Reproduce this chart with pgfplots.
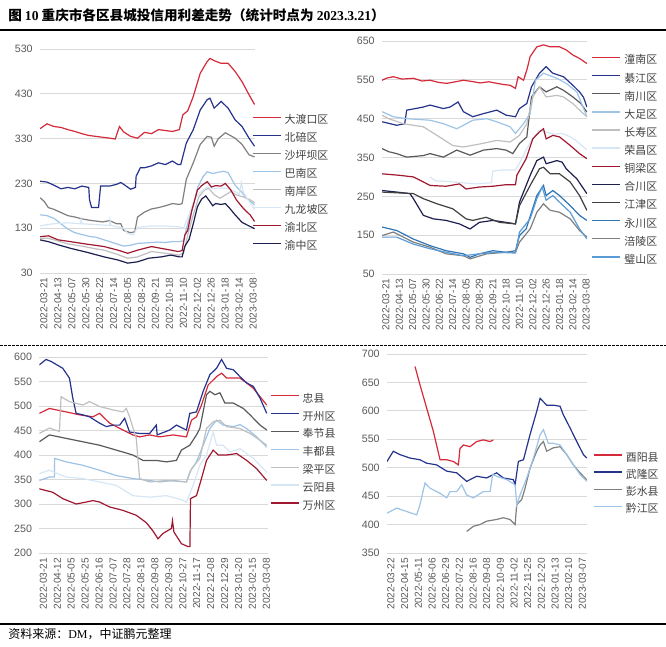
\documentclass[border=0pt]{standalone}
\usepackage{fontspec}
\usepackage{pgfplots}
\pgfplotsset{compat=1.18}
\setmainfont{Liberation Serif}
\setsansfont{Liberation Sans}
\newfontfamily\cjk{Noto Sans CJK SC}

\definecolor{cRed}{HTML}{D42A3A}
\definecolor{cNavy}{HTML}{26338C}
\definecolor{cGray}{HTML}{7F7F7F}
\definecolor{cDGray}{HTML}{595959}
\definecolor{cLBlue}{HTML}{9DC3E6}
\definecolor{cLGray}{HTML}{BFBFBF}
\definecolor{cPale}{HTML}{D6E6F5}
\definecolor{cMaroon}{HTML}{A01830}
\definecolor{cDNavy}{HTML}{1C1F4F}
\definecolor{cDark}{HTML}{404040}
\definecolor{cBlue}{HTML}{2E75B6}
\definecolor{cSky}{HTML}{5B9BD5}
\definecolor{cTick}{HTML}{595959}
\definecolor{cGrid}{HTML}{D9D9D9}

\pgfplotsset{
  panel/.style={
    scale only axis, anchor=south west,
    axis line style={draw=none},
    major tick length=0pt,
    ymajorgrids,
    grid style={draw=cGrid, line width=0.6pt},
    tick label style={font=\sffamily\fontsize{8}{9}\selectfont, text=cTick},
    /pgf/number format/assume math mode=true,
    yticklabel style={xshift=-2pt},
    xticklabel style={rotate=90, anchor=east, yshift=-3pt, font=\sffamily\fontsize{7.6}{8}\selectfont},
    every axis plot/.append style={line width=0.9pt, mark=none},
    legend cell align=left,
    legend style={draw=none, fill=none, inner sep=0pt, outer sep=0pt, anchor=north west,
      font=\cjk\fontsize{8.2}{9}\selectfont, text=cDark,
      nodes={inner sep=0pt, text height=6pt, text depth=1.5pt},
      /tikz/every odd column/.append style={column sep=2.5pt}},
    legend image code/.code={\draw[##1, line width=1pt] (0pt,2.6pt) -- (21pt,2.6pt);},
  },
}

\begin{document}
\begin{tikzpicture}
\useasboundingbox (0,0) rectangle (499.5pt,-484.5pt);

\node[anchor=west, inner sep=0pt] at (6pt,-11.5pt)
  {\cjk\bfseries\fontsize{10.2}{12}\selectfont 图 {\rmfamily 10} 重庆市各区县城投信用利差走势（统计时点为 {\rmfamily 2023.3.21}）};
\draw[line width=1.2pt] (0,-22.5pt) -- (499.5pt,-22.5pt);
\draw[line width=0.6pt, dash pattern=on 2pt off 1pt] (0,-258.75pt) -- (499.5pt,-258.75pt);
\draw[line width=0.9pt] (0,-468pt) -- (499.5pt,-468pt);
\node[anchor=west, inner sep=0pt] at (6pt,-475.5pt)
  {\cjk\fontsize{9}{10}\selectfont 资料来源：{\rmfamily DM}，中证鹏元整理};

% ---------- panel 1 ----------
\begin{axis}[panel, at={(30pt,-204.75pt)}, width=161.25pt, height=168pt,
  xmin=0, xmax=15.43, ymin=30, ymax=530, ytick={30,130,...,530},
  xtick={0,...,15},
  xticklabels={2022-03-21,2022-04-13,2022-05-07,2022-05-30,2022-06-22,2022-07-14,2022-08-05,2022-08-29,2022-09-21,2022-10-18,2022-11-10,2022-12-02,2022-12-26,2023-01-18,2023-02-14,2023-03-08},
  legend style={at={(0.986,0.701)}, row sep=6pt}]
\addplot[cRed] coordinates {(0,352) (0.5,363) (1,357) (1.5,355) (2,350) (2.5,346) (3,341) (3.5,337) (4,335) (4.5,333) (5,331) (5.4,329) (5.7,357) (6,345) (6.5,335) (7,331) (7.5,344) (8,341) (8.5,350) (9,348) (9.5,346) (10,350) (10.25,383) (10.6,392) (11,424) (11.5,476) (12,502) (12.2,509) (12.5,504) (13,498) (13.5,498) (14,480) (14.5,457) (15,428) (15.4,406)};
\addplot[cNavy] coordinates {(0,235) (0.5,233) (1,226) (1.5,218) (2,221) (2.5,218) (3,224) (3.5,221) (3.55,194) (3.7,176) (4.2,176) (4.35,224) (5,224) (5.5,228) (5.8,232) (6,228) (6.5,217) (6.85,221) (6.9,246) (7.2,265) (7.5,265) (8,269) (8.5,276) (9,272) (9.5,280) (9.9,272) (10.1,272) (10.5,320) (11,350) (11.5,394) (12,417) (12.2,420) (12.5,398) (13,413) (13.5,398) (14,372) (14.5,357) (15,331) (15.4,313)};
\addplot[cGray] coordinates {(0,198) (0.3,190) (0.6,176) (1,172) (1.5,165) (2,158) (2.5,155) (3,151) (3.5,148) (4,146) (4.5,144) (5,147) (5.5,140) (5.8,140) (6,125) (6.5,120) (6.8,122) (7,155) (7.5,166) (8,173) (8.5,176) (9,180) (9.5,185) (10,183) (10.2,185) (10.5,239) (11,276) (11.5,317) (12,335) (12.3,333) (12.5,313) (12.8,330) (13.3,343) (14,331) (14.5,317) (15,294) (15.4,289)};
\addplot[cLBlue] coordinates {(0,160) (0.5,158) (1,152) (1.5,140) (2,128) (2.5,120) (3,116) (3.5,112) (4,110) (4.5,105) (5,100) (5.5,95) (6,90) (6.5,92) (7,96) (7.5,97) (8,98) (8.5,99) (9,98) (9.5,100) (10,100) (10.3,102) (10.6,140) (11,180) (11.3,220) (11.7,245) (12,256) (12.4,252) (12.8,255) (13.2,257) (13.5,254) (14,226) (14.5,210) (14.8,197) (15.4,182)};
\addplot[cLGray] coordinates {(0,107) (0.5,108) (1,104) (2,95) (3,90) (4,84) (4.6,81) (5.5,72) (6.3,63) (7,66) (7.5,72) (8,78) (8.5,76) (9,74) (9.5,72) (10,70) (10.3,75) (10.6,115) (11,160) (11.4,200) (11.8,215) (12.1,219) (12.5,205) (12.9,197) (13.3,204) (13.7,212) (14.1,204) (14.6,200) (15.1,193) (15.4,187)};
\addplot[cPale] coordinates {(0,135) (0.5,138) (1,140) (2,142) (2.9,140) (2.95,150) (3.0,140) (4,138) (5,136) (5.02,148) (5.1,136) (6,130) (6.3,118) (6.7,115) (7,132) (8,135) (9,135) (10,133) (10.3,130) (10.7,160) (11.1,195) (11.5,210) (12,222) (12.5,218) (13,220) (13.5,218) (14,212) (14.3,205) (14.45,232) (14.6,210) (15,190) (15.4,172)};
\addplot[cMaroon] coordinates {(0,111) (0.6,113) (1.3,104) (2.2,100) (3,96) (3.7,93) (4.6,89) (5.6,81) (6.3,74) (7,81) (8,89) (8.7,85) (9.4,81) (9.9,78) (10.2,80) (10.4,115) (10.6,125) (10.9,170) (11.3,215) (11.6,225) (12,234) (12.3,222) (12.6,225) (13,224) (13.3,230) (13.7,215) (14.1,193) (14.6,174) (15.1,159) (15.4,145)};
\addplot[cDNavy] coordinates {(0,104) (0.6,100) (1.3,93) (2.2,85) (3.4,76) (4.6,66) (5.6,59) (6.3,52) (7,55) (7.8,63) (8.7,66) (9.4,70) (10,66) (10.2,66) (10.4,90) (10.7,105) (11,140) (11.3,178) (11.6,195) (11.9,202) (12.2,189) (12.4,180) (12.6,185) (13,183) (13.3,185) (13.6,175) (14,160) (14.5,143) (15,135) (15.4,129)};
\legend{大渡口区,北碚区,沙坪坝区,巴南区,南岸区,九龙坡区,渝北区,渝中区}
\end{axis}

% ---------- panel 2 ----------
\begin{axis}[panel, at={(286.5pt,-205.5pt)}, width=153.75pt, height=174.75pt,
  xmin=0, xmax=15.36, ymin=50, ymax=650, ytick={50,150,...,650},
  xtick={0,...,15},
  xticklabels={2022-03-21,2022-04-13,2022-05-07,2022-05-30,2022-06-22,2022-07-14,2022-08-05,2022-08-29,2022-09-21,2022-10-18,2022-11-10,2022-12-02,2022-12-26,2023-01-18,2023-02-14,2023-03-08},
  legend style={at={(1.023,0.936)}, row sep=6.1pt}]
\addplot[cRed] coordinates {(0,549) (0.4,555) (0.85,558) (1.5,552) (2.35,554) (3,547) (3.6,549) (4.3,543) (4.85,541) (5.5,545) (6.1,549) (6.7,546) (7.35,542) (8,545) (8.6,541) (9.1,538) (9.6,536) (10,528) (10.2,558) (10.6,549) (10.85,575) (11.1,610) (11.6,635) (12.1,640) (12.6,635) (13.3,635) (13.8,627) (14.3,614) (14.8,605) (15.35,592)};
\addplot[cNavy] coordinates {(0,442) (0.5,438) (1.1,433) (1.7,437) (1.85,472) (2.5,476) (3.1,480) (3.6,485) (4.6,476) (5.1,480) (5.7,493) (6.1,468) (6.8,455) (7.6,463) (8.6,472) (9.3,459) (10,455) (10.3,476) (10.85,489) (11.2,532) (11.8,567) (12.3,584) (12.8,567) (13.6,558) (14.3,536) (14.8,519) (15.1,505) (15.35,480)};
\addplot[cDGray] coordinates {(0,373) (0.5,365) (1.1,360) (1.85,351) (2.5,353) (3.1,355) (3.6,360) (4.6,351) (5.6,369) (6.6,356) (7.6,369) (8.6,373) (9.3,369) (9.8,360) (10.3,386) (10.85,403) (11.2,506) (11.8,532) (12.3,519) (13.1,532) (13.6,523) (14.3,506) (14.9,489) (15.35,467)};
\addplot[cLBlue] coordinates {(0,468) (0.85,455) (1.85,450) (3.6,446) (4.6,437) (5.6,424) (6.1,433) (6.8,446) (7.85,450) (8.6,442) (9.6,429) (10,412) (10.6,437) (11.1,463) (11.5,549) (12.1,567) (13.1,554) (13.8,541) (14.6,519) (15.35,455)};
\addplot[cLGray] coordinates {(0,459) (0.5,450) (1.6,437) (3.1,429) (4.3,403) (5.3,381) (6.1,377) (7.35,385) (8.6,394) (9.6,390) (10.3,407) (10.85,437) (11.3,506) (11.8,532) (12.3,506) (13.1,510) (13.6,506) (14.3,489) (14.8,472) (15.35,455)};
\addplot[cPale] coordinates {(3.6,300) (4,290) (5,288) (6,285) (7,282) (8.2,285) (8.3,315) (9,318) (10,318) (10.3,335) (10.8,370) (11.3,400) (11.8,420) (12.3,415) (13,410) (13.5,412) (14,405) (14.5,395) (15,380) (15.35,370)};
\addplot[cMaroon] coordinates {(0,308) (1.35,304) (2.35,300) (3.1,287) (3.6,278) (4.8,276) (5.8,282) (6.3,269) (7.3,274) (8.3,276) (9.3,280) (10,280) (10.1,304) (10.8,347) (11.3,398) (11.8,416) (12.1,424) (12.3,398) (12.8,407) (13.3,403) (14.1,381) (14.8,360) (15.35,347)};
\addplot[cDNavy] coordinates {(0,265) (1.1,261) (2.1,257) (2.35,244) (3.1,201) (3.85,192) (4.8,188) (5.8,179) (6.6,166) (7.3,183) (8.3,188) (9.3,183) (10,179) (10.3,235) (11.1,304) (11.6,342) (12.1,351) (12.3,334) (13.1,342) (13.5,338) (13.8,321) (14.6,295) (15.35,257)};
\addplot[cDark] coordinates {(0,261) (2.35,257) (3.1,244) (4.1,231) (5.3,218) (6.3,192) (6.8,188) (7.8,196) (8.8,183) (10,179) (10.3,226) (11.1,278) (11.8,321) (12.1,325) (12.6,308) (13.3,308) (14.1,287) (14.8,252) (15.35,214)};
\addplot[cBlue] coordinates {(0,171) (1.1,162) (2.35,140) (3.6,123) (4.8,110) (6.1,102) (6.6,93) (7.3,102) (8.3,110) (9.3,106) (10,110) (10.3,149) (10.8,166) (11.6,252) (12.1,278) (12.3,252) (12.8,265) (13.3,252) (14.1,226) (14.8,201) (15.35,188)};
\addplot[cGray] coordinates {(0,149) (0.85,158) (2.35,132) (3.6,119) (4.8,102) (6.1,97) (6.6,89) (7.85,102) (9.3,106) (10,106) (10.3,132) (11.1,166) (11.6,209) (12.1,231) (12.6,214) (13.3,209) (14.1,192) (14.8,162) (15.35,145)};
\addplot[cSky] coordinates {(0,145) (1.1,145) (2.35,127) (3.6,115) (4.8,106) (6.1,97) (7.3,102) (8.6,106) (10,104) (10.3,158) (11.1,192) (11.6,244) (12,274) (12.3,240) (12.8,252) (13.3,235) (14.1,209) (14.8,166) (15.35,141)};
\legend{潼南区,綦江区,南川区,大足区,长寿区,荣昌区,铜梁区,合川区,江津区,永川区,涪陵区,璧山区}
\end{axis}

% ---------- panel 3 ----------
\begin{axis}[panel, at={(29.5pt,-414.75pt)}, width=171.5pt, height=147pt,
  xmin=0, xmax=16.4, ymin=200, ymax=600, ytick={200,250,...,600},
  xtick={0,...,16},
  xticklabels={2022-03-21,2022-04-12,2022-05-05,2022-05-25,2022-06-16,2022-07-07,2022-07-28,2022-08-18,2022-09-08,2022-09-30,2022-10-27,2022-11-17,2022-12-08,2022-12-29,2023-01-20,2023-02-15,2023-03-08},
  legend style={at={(1.009,0.81)}, row sep=5.9pt}]
\addplot[cRed] coordinates {(0,485) (0.72,495) (1.92,488) (2.88,482) (3.84,478) (4.32,485) (5.04,465) (6,451) (6.71,441) (7.19,437) (7.91,441) (8.63,437) (9.59,441) (10.55,437) (10.91,471) (11.27,478) (11.63,502) (12.11,543) (12.71,560) (13.07,567) (13.43,557) (13.91,557) (14.39,557) (14.87,547) (15.35,536) (15.83,519) (16.31,502)};
\addplot[cNavy] coordinates {(0,584) (0.48,595) (0.84,591) (1.68,577) (1.92,567) (2.16,557) (2.4,516) (2.64,485) (3.12,482) (3.6,478) (4.32,465) (4.8,458) (5.28,461) (5.76,461) (6.12,475) (6.47,447) (7.19,444) (7.91,444) (8.39,461) (8.45,441) (9.35,451) (9.83,461) (10.55,451) (10.79,485) (11.27,488) (11.75,530) (12.23,564) (12.71,577) (13.07,595) (13.43,577) (13.91,574) (14.39,560) (14.87,547) (15.35,540) (15.83,516) (16.31,485)};
\addplot[cDGray] coordinates {(0,427) (0.72,441) (1.92,434) (3.12,427) (4.32,420) (5.52,410) (6.71,400) (7.43,389) (8.39,389) (9.11,386) (9.83,389) (10.19,410) (10.79,420) (11.27,441) (11.51,454) (11.99,523) (12.23,530) (12.59,523) (12.95,527) (13.31,506) (13.91,506) (14.63,495) (15.11,482) (15.83,461) (16.31,451)};
\addplot[cLBlue] coordinates {(0,348) (0.72,355) (1.08,355) (1.1,393) (1.92,386) (3.12,379) (4.32,369) (5.52,358) (6.71,352) (7.91,348) (8.63,345) (9.59,348) (10.55,345) (10.79,365) (11.27,386) (11.75,420) (12.23,454) (12.71,471) (13.19,461) (13.91,458) (14.39,462) (14.87,454) (15.59,437) (16.31,416)};
\addplot[cLGray] coordinates {(0,444) (0.72,455) (1.44,448) (1.56,519) (2.16,509) (3.12,502) (3.6,509) (4.32,499) (5.28,492) (6,488) (6.24,495) (6.47,478) (6.95,434) (7.19,352) (7.91,345) (9.11,348) (10.55,345) (10.91,372) (11.51,393) (11.99,454) (12.47,468) (12.95,471) (13.43,458) (14.39,454) (15.11,444) (15.83,430) (16.31,420)};
\addplot[cPale] coordinates {(0,362) (0.72,369) (1.92,355) (3.12,352) (4.32,345) (5.52,338) (6.71,317) (7.91,314) (9.11,317) (10.07,310) (10.55,304) (11.03,338) (11.51,379) (11.99,400) (12.47,447) (12.71,420) (13.19,420) (13.67,406) (14.39,413) (15.35,393) (16.31,365)};
\addplot[cMaroon] coordinates {(0,331) (0.96,324) (1.68,311) (2.64,300) (3.36,304) (3.84,307) (4.32,304) (5.04,294) (6,287) (6.95,277) (7.67,262) (8.15,245) (8.51,229) (8.87,240) (9.23,246) (9.47,250) (9.55,266) (9.65,243) (10.19,219) (10.67,213) (10.8,213) (10.84,311) (11.27,317) (11.63,352) (11.99,389) (12.47,410) (12.83,400) (13.43,400) (14.15,403) (14.87,389) (15.59,372) (16.31,348)};
\legend{忠县,开州区,奉节县,丰都县,梁平区,云阳县,万州区}
\end{axis}

% ---------- panel 4 ----------
\begin{axis}[panel, at={(290.25pt,-414.75pt)}, width=150pt, height=149.25pt,
  xmin=0, xmax=14.63, ymin=350, ymax=700, ytick={350,400,...,700},
  xtick={0,...,14},
  xticklabels={2022-03-22,2022-04-15,2022-05-11,2022-06-06,2022-06-29,2022-07-22,2022-08-16,2022-09-08,2022-10-09,2022-11-02,2022-11-25,2022-12-20,2023-01-13,2023-02-10,2023-03-07},
  legend style={at={(1.031,0.501)}, row sep=5.4pt}]
\addplot[cRed] coordinates {(2.05,678) (2.41,646) (2.9,605) (3.39,564) (3.88,514) (4.37,514) (4.85,511) (5.22,505) (5.34,534) (5.59,540) (6.07,537) (6.56,546) (7.05,549) (7.54,546) (7.78,549)};
\addplot[cNavy] coordinates {(0,511) (0.46,529) (0.95,523) (1.68,517) (2.41,514) (2.9,508) (3.63,505) (4.37,494) (5.1,491) (5.83,476) (6.56,485) (7.29,482) (8.02,491) (8.51,482) (9.24,479) (9.37,470) (9.61,511) (9.98,514) (10.46,558) (10.95,599) (11.2,622) (11.44,616) (11.68,610) (12.17,610) (12.66,608) (12.9,593) (13.39,570) (13.88,546) (14.37,523) (14.61,517)};
\addplot[cGray] coordinates {(5.83,388) (6.32,397) (6.8,400) (7.29,406) (8.02,409) (8.51,412) (9,409) (9.37,400) (9.49,435) (9.85,444) (10.1,464) (10.46,499) (10.95,529) (11.2,540) (11.44,546) (11.68,529) (12.17,535) (12.66,537) (13.15,523) (13.63,505) (14.12,491) (14.61,479)};
\addplot[cLBlue] coordinates {(0,420) (0.71,429) (1.44,423) (2.17,417) (2.41,435) (2.78,473) (3.15,464) (3.88,455) (4.37,447) (4.61,458) (5.1,458) (5.46,470) (5.83,452) (6.32,447) (7.05,458) (7.54,458) (7.73,488) (8.02,485) (8.76,479) (9.37,470) (9.49,435) (9.73,452) (10.22,482) (10.71,517) (11.2,558) (11.44,567) (11.8,543) (12.17,543) (12.66,540) (13.15,523) (13.63,505) (14.12,488) (14.61,476)};
\legend{酉阳县,武隆区,彭水县,黔江区}
\end{axis}
\end{tikzpicture}
\end{document}
